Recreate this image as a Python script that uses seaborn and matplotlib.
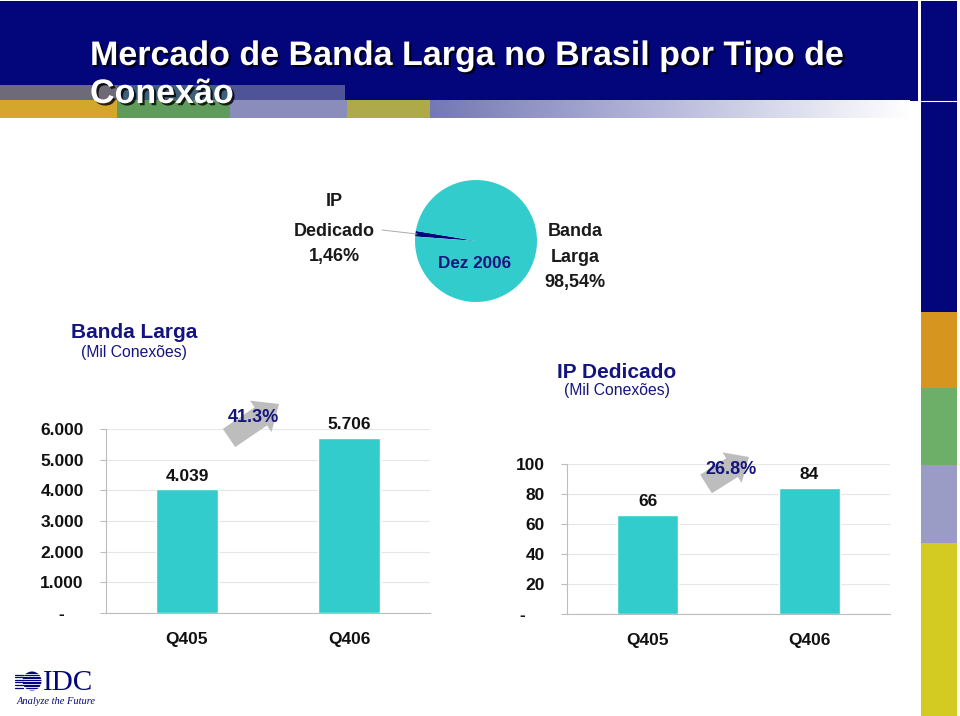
import numpy as np
import pandas as pd
import matplotlib
matplotlib.use("Agg")
import matplotlib.pyplot as plt
import matplotlib.patches as mpatches
import matplotlib.patheffects as pe
from matplotlib.colors import LinearSegmentedColormap
import seaborn as sns

# ---------------- data ----------------
quarters = ["Q405", "Q406"]
banda_larga = [4039, 5706]
ip_dedicado = [66, 84]
banda_larga_labels = ["4.039", "5.706"]
ip_dedicado_labels = ["66", "84"]
banda_growth = "41.3%"
ip_growth = "26.8%"
share_names = ["IP Dedicado", "Banda Larga"]
share_values = [1.46, 98.54]
share_text = ["1,46%", "98,54%"]
banda_ticks = [0, 1000, 2000, 3000, 4000, 5000, 6000]
banda_tick_labels = ["-    ", "1.000", "2.000", "3.000", "4.000", "5.000", "6.000"]
ip_ticks = [0, 20, 40, 60, 80, 100]
ip_tick_labels = ["-    ", "20", "40", "60", "80", "100"]

TEAL = "#33CCCC"
NAVY = "#03057A"
TXT_NAVY = "#14147F"
DARK = "#111111"
GRID = "#e6e6e6"
SPINE = "#bdbdbd"

sns.set_theme(style="white")
plt.rcParams["font.family"] = ["Liberation Sans", "DejaVu Sans"]

fig = plt.figure(figsize=(9.6, 7.16), dpi=100)
fig.patch.set_facecolor("white")

# background decoration axes (pixel coordinates)
bg = fig.add_axes([0, 0, 1, 1], zorder=-5)
bg.set_xlim(0, 960)
bg.set_ylim(716, 0)
bg.axis("off")

bg.add_patch(mpatches.Rectangle((0, 1), 918, 100, color=NAVY, lw=0))
# strip upper (blended tiles)
for x0, w, c in [(0, 117, "#6f6a78"), (117, 113, "#3f5e78"), (230, 115, "#4f5398")]:
    bg.add_patch(mpatches.Rectangle((x0, 85), w, 15, color=c, lw=0))
# strip lower
for x0, w, c in [(0, 117, "#d4a62c"), (117, 113, "#5f9c5c"), (230, 117, "#8a8cbc"), (347, 83, "#aeaa4a")]:
    bg.add_patch(mpatches.Rectangle((x0, 100), w, 18, color=c, lw=0))
grad = np.linspace(0, 1, 256).reshape(1, -1)
cmap = LinearSegmentedColormap.from_list("g", ["#7478b4", "#b9bbdc", "#ffffff"])
bg.imshow(grad, cmap=cmap, extent=(430, 910, 118, 100), aspect="auto", zorder=1)
# right column
bg.add_patch(mpatches.Rectangle((921, 1), 36, 311, color=NAVY, lw=0))
bg.plot([921, 957], [101, 101], color="white", lw=0.8)
for y0, h, c in [(312, 76, "#d6951f"), (388, 77, "#6dae69"), (465, 78, "#9a9cc6"), (543, 173, "#d3cb22")]:
    bg.add_patch(mpatches.Rectangle((921, y0), 36, h, color=c, lw=0))

# title
shadow = [pe.withSimplePatchShadow(offset=(1.6, -1.6), shadow_rgbFace="black", alpha=0.8)]
bg.text(90, 65, "Mercado de Banda Larga no Brasil por Tipo de", color="white",
        fontsize=24.5, fontweight="bold", va="baseline", ha="left", path_effects=shadow, zorder=5)
bg.text(90, 103, "Conexão", color="white", fontsize=24.5, fontweight="bold",
        va="baseline", ha="left", path_effects=shadow, zorder=5)

# ---------------- pie ----------------
pax = fig.add_axes([415 / 960, 1 - 302 / 716, 122 / 960, 122 / 716])
pax.pie(share_values, colors=[NAVY, TEAL], startangle=170.5, counterclock=True,
        radius=1, wedgeprops=dict(linewidth=0))
pax.set_xlim(-1, 1)
pax.set_ylim(-1, 1)

# ---------------- bar charts ----------------
def bar_chart(rect, values, labels, ticks, tick_labels, ymax):
    ax = fig.add_axes(rect)
    sns.barplot(x=quarters, y=values, color=TEAL, saturation=1, width=0.38, ax=ax, zorder=3)
    ax.set_xlim(-0.5, 1.5)
    ax.set_ylim(0, ymax)
    ax.set_yticks(ticks)
    ax.set_yticklabels(tick_labels)
    ax.yaxis.grid(True, color=GRID, lw=0.8)
    ax.set_axisbelow(True)
    for s in ["top", "right"]:
        ax.spines[s].set_visible(False)
    for s in ["left", "bottom"]:
        ax.spines[s].set_color(SPINE)
        ax.spines[s].set_linewidth(0.8)
    ax.set_xlabel("")
    ax.set_ylabel("")
    ax.set_xticks([-0.5, 0.5, 1.5], minor=True)
    ax.tick_params(axis="x", which="major", length=0, pad=14, labelsize=12.5, labelcolor=DARK)
    ax.tick_params(axis="x", which="minor", length=5, color=SPINE, width=0.8, direction="out")
    ax.tick_params(axis="y", length=4, color=SPINE, width=0.8, pad=12, labelsize=12.5,
                   labelcolor=DARK, left=True)
    for t in ax.get_xticklabels() + ax.get_yticklabels():
        t.set_fontweight("bold")
    for i, (v, lab) in enumerate(zip(values, labels)):
        ax.annotate(lab, (i, v), xytext=(0, 4), textcoords="offset points", ha="center",
                    va="bottom", fontsize=12.5, fontweight="bold", color=DARK, zorder=5)
    return ax

axL = bar_chart([106 / 960, 1 - 613 / 716, 324 / 960, 184 / 716],
                banda_larga, banda_larga_labels, banda_ticks, banda_tick_labels, 6000)
axR = bar_chart([567 / 960, 1 - 614 / 716, 323 / 960, 150 / 716],
                ip_dedicado, ip_dedicado_labels, ip_ticks, ip_tick_labels, 100)

# ---------------- foreground annotations (pixel coordinates) ----------------
fg = fig.add_axes([0, 0, 1, 1], zorder=10)
fg.set_xlim(0, 960)
fg.set_ylim(716, 0)
fg.axis("off")
fg.patch.set_visible(False)

# pie labels
fg.plot([382, 417], [230, 234], color="#aaaaaa", lw=0.7)
for y, s in [(202, "IP"), (231, "Dedicado"), (256, share_text[0])]:
    fg.text(334, y, s, ha="center", va="center", fontsize=13, fontweight="bold", color="#1a1a1a")
for y, s in [(232, "Banda"), (257, "Larga"), (282, share_text[1])]:
    fg.text(575, y, s, ha="center", va="center", fontsize=13, fontweight="bold", color="#1a1a1a")
fg.text(475, 264, "Dez 2006", ha="center", va="center", fontsize=12.3, fontweight="bold", color=TXT_NAVY)

# chart titles
fg.text(134, 333, "Banda Larga", ha="center", va="center", fontsize=15, fontweight="bold", color=TXT_NAVY)
fg.text(134, 352, "(Mil Conexões)", ha="center", va="center", fontsize=11.3, color=TXT_NAVY)
fg.text(617, 373, "IP Dedicado", ha="center", va="center", fontsize=15, fontweight="bold", color=TXT_NAVY)
fg.text(617, 391, "(Mil Conexões)", ha="center", va="center", fontsize=11.3, color=TXT_NAVY)

# growth arrows
fg.add_patch(mpatches.FancyArrow(229, 438, 50, -34, width=22, head_width=38, head_length=22,
                                 length_includes_head=True, color="#bdbdbd", lw=0))
fg.text(253, 418, banda_growth, ha="center", va="center", fontsize=13, fontweight="bold", color=TXT_NAVY)
fg.add_patch(mpatches.FancyArrow(706, 484, 43, -27, width=22, head_width=36, head_length=20,
                                 length_includes_head=True, color="#bdbdbd", lw=0))
fg.text(731, 469, ip_growth, ha="center", va="center", fontsize=13, fontweight="bold", color=TXT_NAVY)

# IDC logo
fg.add_patch(mpatches.Circle((32, 681), 9.5, color=NAVY, lw=0))
for yy in np.arange(673.5, 690, 2.6):
    fg.plot([15, 42], [yy, yy], color="white", lw=0.6)
for yy in np.arange(674.5, 689, 2.6):
    fg.plot([15, 23], [yy, yy], color=NAVY, lw=0.9)
fg.text(43, 690, "IDC", ha="left", va="baseline", fontsize=21, color=NAVY,
        family=["Liberation Serif", "DejaVu Serif"])
fg.text(56, 702, "Analyze the Future", ha="center", va="center", fontsize=7.5, color=NAVY,
        style="italic", family=["Liberation Serif", "DejaVu Serif"])

fig.savefig("out.png", dpi=100)
